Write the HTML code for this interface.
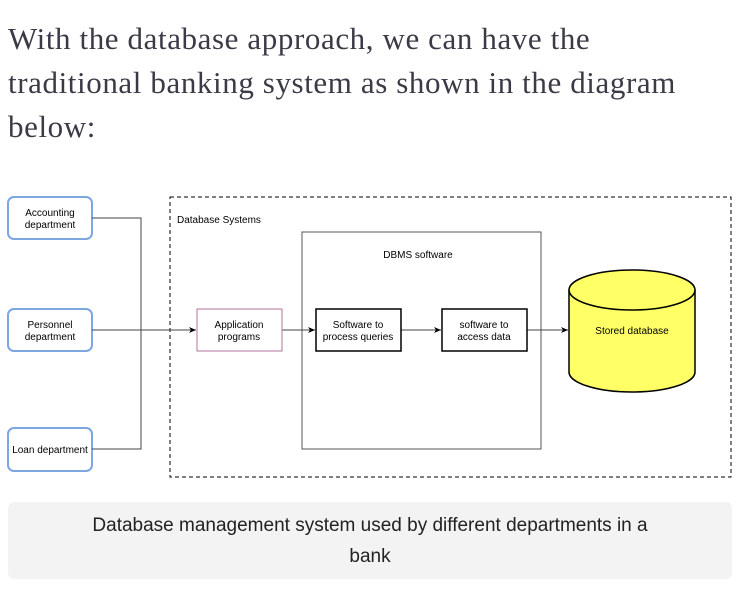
<!DOCTYPE html>
<html><head><meta charset="utf-8"><style>
body{margin:0;background:#fff;width:742px;height:603px;overflow:hidden;position:relative}
.h{position:absolute;left:8px;top:17px;font-family:"Liberation Serif","DejaVu Serif",serif;font-size:31px;letter-spacing:0.6px;line-height:44px;color:#3b3b47;width:740px;white-space:nowrap}
.cap{position:absolute;left:8px;top:502px;width:724px;height:77px;background:#f3f3f3;border-radius:6px;font-family:"Liberation Sans",sans-serif;font-size:19px;line-height:31px;text-align:center;color:#222;box-sizing:border-box;padding-top:8px}
</style></head><body>
<div class="h">With the database approach, we can have the<br>traditional banking system as shown in the diagram<br>below:</div>
<svg width="742" height="603" style="position:absolute;left:0;top:0" font-family="Liberation Sans, Arial, sans-serif" font-size="10">
<defs><marker id="a" markerWidth="8" markerHeight="8" refX="7" refY="4" orient="auto" markerUnits="userSpaceOnUse"><path d="M0,1 L7,4 L0,7 L2,4z" fill="#000"/></marker></defs>
<rect x="170" y="197" width="561" height="280" fill="none" stroke="#000" stroke-dasharray="4,3"/>
<text x="177" y="223">Database Systems</text>
<rect x="302" y="232" width="239" height="217" fill="#fff" stroke="#555"/>
<text x="418" y="258" text-anchor="middle">DBMS software</text>
<g fill="#fff" stroke="#7ea6e0" stroke-width="2">
<rect x="8" y="197" width="84" height="42" rx="6"/>
<rect x="8" y="309" width="84" height="42" rx="6"/>
<rect x="8" y="428" width="84" height="43" rx="6"/>
</g>
<g text-anchor="middle">
<text x="50" y="216">Accounting</text><text x="50" y="228">department</text>
<text x="50" y="328">Personnel</text><text x="50" y="340">department</text>
<text x="50" y="453" font-size="10">Loan department</text>
</g>
<g fill="none" stroke="#444">
<path d="M92,218 H141 V449 H92"/>
<path d="M92,330 H196" marker-end="url(#a)"/>
<path d="M282,330 H315" marker-end="url(#a)"/>
<path d="M401,330 H441" marker-end="url(#a)"/>
<path d="M527,330 H568" marker-end="url(#a)"/>
</g>
<rect x="197" y="309" width="85" height="42" fill="#fff" stroke="#b5739d"/>
<rect x="316" y="309" width="85" height="42" fill="#fff" stroke="#000" stroke-width="1.5"/>
<rect x="442" y="309" width="85" height="42" fill="#fff" stroke="#000" stroke-width="1.5"/>
<g text-anchor="middle">
<text x="239" y="328">Application</text><text x="239" y="340">programs</text>
<text x="358" y="328">Software to</text><text x="358" y="340">process queries</text>
<text x="484" y="328">software to</text><text x="484" y="340">access data</text>
</g>
<path d="M569,290 A63,20 0 0 1 695,290 V372 A63,20 0 0 1 569,372 Z" fill="#ffff66" stroke="#000" stroke-width="1.5"/>
<path d="M569,290 A63,20 0 0 0 695,290" fill="none" stroke="#000" stroke-width="1.5"/>
<text x="632" y="334" text-anchor="middle">Stored database</text>
</svg>
<div class="cap">Database management system used by different departments in a<br>bank</div>
</body></html>
